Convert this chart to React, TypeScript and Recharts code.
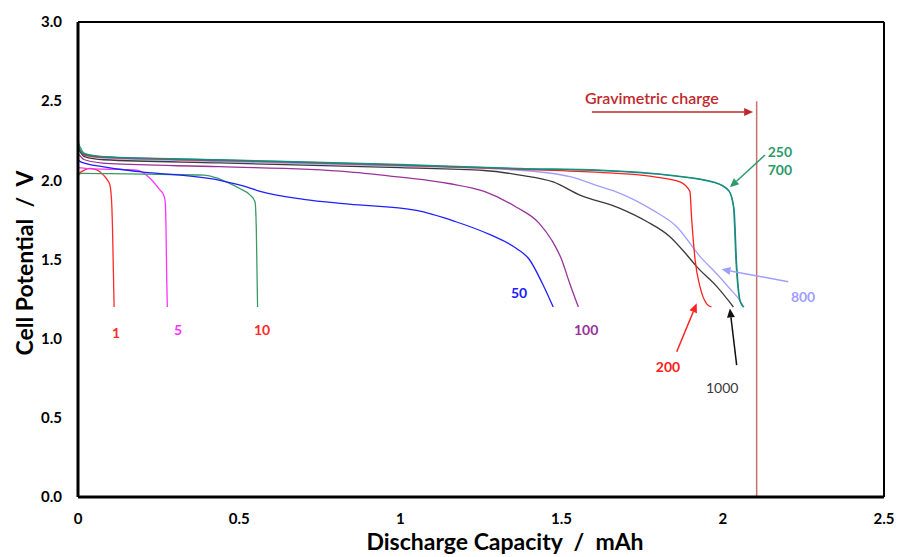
import React from 'react';
import { LineChart, Line, XAxis, YAxis, ReferenceLine, ReferenceDot } from 'recharts';

// discharge capacity (mAh) and cell potential (V) for each run
const cap1 = [0, 0.015, 0.037, 0.06, 0.079, 0.092, 0.099, 0.104, 0.107, 0.109, 0.111, 0.112];
const v1 = [2.04, 2.06, 2.076, 2.065, 2.033, 2.0, 1.97, 1.875, 1.7, 1.5, 1.3, 1.2];

const cap5 = [0, 0.03, 0.1, 0.182, 0.22, 0.254, 0.265, 0.27, 0.273, 0.275, 0.277];
const v5 = [2.08, 2.074, 2.07, 2.065, 2.02, 1.94, 1.91, 1.875, 1.7, 1.4, 1.2];

const cap10 = [0, 0.01, 0.1, 0.25, 0.39, 0.43, 0.46, 0.5, 0.534, 0.549, 0.553, 0.555, 0.557];
const v10 = [2.03, 2.044, 2.042, 2.038, 2.033, 2.015, 1.99, 1.95, 1.907, 1.865, 1.7, 1.45, 1.2];

const cap50 = [0, 0.01, 0.08, 0.19, 0.44, 0.52, 0.565, 0.7, 0.84, 1.05, 1.17, 1.28, 1.36, 1.4, 1.44, 1.474];
const v50 = [2.13, 2.115, 2.085, 2.055, 2.0, 1.96, 1.93, 1.88, 1.85, 1.81, 1.74, 1.655, 1.57, 1.5, 1.35, 1.2];

const cap100 = [0, 0.02, 0.1, 0.44, 0.84, 1.0, 1.15, 1.26, 1.36, 1.43, 1.47, 1.5, 1.525, 1.552];
const v100 = [2.17, 2.13, 2.105, 2.086, 2.054, 2.02, 1.98, 1.93, 1.83, 1.73, 1.62, 1.5, 1.35, 1.2];

const cap200 = [0, 0.02, 0.08, 0.44, 1.0, 1.37, 1.62, 1.784, 1.867, 1.898, 1.903, 1.914, 1.929, 1.95, 1.965];
const v200 = [2.21, 2.16, 2.145, 2.125, 2.095, 2.07, 2.05, 2.023, 1.99, 1.93, 1.77, 1.5, 1.33, 1.22, 1.2];

const cap250 = [0, 0.02, 0.08, 0.44, 1.0, 1.37, 1.62, 1.836, 1.97, 2.017, 2.033, 2.041, 2.053, 2.064];
const v250 = [2.24, 2.17, 2.15, 2.13, 2.1, 2.075, 2.065, 2.033, 1.99, 1.94, 1.83, 1.48, 1.24, 1.2];

const cap700 = [0, 0.004, 0.02, 0.08, 0.44, 1.0, 1.37, 1.62, 1.84, 1.975, 2.02, 2.035, 2.043, 2.055, 2.066];
const v700 = [2.3, 2.2, 2.165, 2.148, 2.128, 2.098, 2.073, 2.062, 2.03, 1.985, 1.93, 1.82, 1.47, 1.23, 1.2];

const cap800 = [0, 0.02, 0.08, 0.44, 1.0, 1.36, 1.526, 1.62, 1.681, 1.784, 1.857, 1.929, 1.981, 2.02, 2.053, 2.064];
const v800 = [2.22, 2.16, 2.14, 2.12, 2.09, 2.065, 2.023, 1.96, 1.918, 1.81, 1.707, 1.52, 1.41, 1.32, 1.24, 1.2];

const cap1000 = [0, 0.02, 0.08, 0.44, 1.0, 1.26, 1.371, 1.474, 1.557, 1.681, 1.764, 1.836, 1.888, 1.919, 1.981, 2.033];
const v1000 = [2.2, 2.15, 2.13, 2.11, 2.08, 2.062, 2.033, 1.99, 1.907, 1.823, 1.74, 1.644, 1.53, 1.455, 1.33, 1.2];

const xTicks = [0, 0.5, 1, 1.5, 2, 2.5];
const yTicks = [0, 0.5, 1, 1.5, 2, 2.5, 3];

const gravimetricCap = 2.105;

const toPts = (xs: number[], ys: number[]) => xs.map((x, i) => ({ x, y: ys[i] }));

const series = [
  { name: '1', pts: toPts(cap1, v1), color: '#ff2a2a' },
  { name: '5', pts: toPts(cap5, v5), color: '#ff33ff' },
  { name: '10', pts: toPts(cap10, v10), color: '#3a9a64' },
  { name: '50', pts: toPts(cap50, v50), color: '#2020ff' },
  { name: '100', pts: toPts(cap100, v100), color: '#993399' },
  { name: '800', pts: toPts(cap800, v800), color: '#9f9fff' },
  { name: '1000', pts: toPts(cap1000, v1000), color: '#3a3a3a' },
  { name: '200', pts: toPts(cap200, v200), color: '#ff2020' },
  { name: '250', pts: toPts(cap250, v250), color: '#2e9a6a' },
  { name: '700', pts: toPts(cap700, v700), color: '#15898a' },
];

// text labels: [text, x, y, colour, weight]
const labels: [string, number, number, string, number][] = [
  ['1', 0.118, 1.035, '#ff2a2a', 700],
  ['5', 0.31, 1.054, '#ff33ff', 700],
  ['10', 0.571, 1.054, '#ff2a2a', 700],
  ['50', 1.368, 1.288, '#2020ff', 700],
  ['100', 1.576, 1.054, '#993399', 700],
  ['200', 1.83, 0.82, '#ff2020', 700],
  ['1000', 1.998, 0.688, '#3a3a3a', 400],
  ['800', 2.249, 1.263, '#9f9fff', 700],
  ['250', 2.177, 2.179, '#2e9a6a', 700],
  ['700', 2.177, 2.065, '#2e9a6a', 700],
];

// arrows: tail x, tail y, head x, head y, colour
const arrows: [number, number, number, number, string][] = [
  [1.857, 0.917, 1.919, 1.223, '#ff2020'],
  [2.043, 0.833, 2.022, 1.191, '#111111'],
  [2.203, 1.36, 1.996, 1.438, '#9f9fff'],
  [2.131, 2.16, 2.022, 1.956, '#2e9a6a'],
  [1.594, 2.431, 2.094, 2.431, '#c0282d'],
];

const Arrow = (props: any) => {
  const { x1, y1, x2, y2, stroke } = props;
  const ang = Math.atan2(y2 - y1, x2 - x1);
  const len = 9;
  const w = 4;
  const bx = x2 - len * Math.cos(ang);
  const by = y2 - len * Math.sin(ang);
  const px = -Math.sin(ang) * w;
  const py = Math.cos(ang) * w;
  return (
    <g>
      <line x1={x1} y1={y1} x2={bx} y2={by} stroke={stroke} strokeWidth={1.5} />
      <polygon points={`${x2},${y2} ${bx + px},${by + py} ${bx - px},${by - py}`} fill={stroke} />
    </g>
  );
};

const font = 'Lato, "Open Sans", sans-serif';

export default function App() {
  return (
    <div style={{ position: 'absolute', left: 0, top: 0, width: 898, height: 557, background: '#fff', fontFamily: font }}>
      <LineChart width={898} height={557} margin={{ top: 22, right: 14, bottom: 20, left: 18 }}>
        <XAxis
          type="number"
          dataKey="x"
          domain={[0, 2.5]}
          ticks={xTicks}
          tickFormatter={(v: number) => String(v)}
          axisLine={{ stroke: '#000', strokeWidth: 3 }}
          tickLine={false}
          tickMargin={10}
          height={40}
          tick={{ fill: '#000', fontSize: 15, fontWeight: 700, fontFamily: font }}
        />
        <YAxis
          type="number"
          dataKey="y"
          domain={[0, 3]}
          ticks={yTicks}
          tickFormatter={(v: number) => v.toFixed(1)}
          axisLine={{ stroke: '#000', strokeWidth: 3 }}
          tickLine={false}
          tickMargin={10}
          width={60}
          tick={{ fill: '#000', fontSize: 15, fontWeight: 700, fontFamily: font }}
        />
        <ReferenceLine y={3} stroke="#000" strokeWidth={2} />
        <ReferenceLine x={2.5} stroke="#000" strokeWidth={2} />
        <ReferenceLine
          segment={[{ x: gravimetricCap, y: 0 }, { x: gravimetricCap, y: 2.5 }]}
          stroke="#c87070"
          strokeWidth={1.5}
        />
        {series.map((s) => (
          <Line
            key={s.name}
            data={s.pts}
            dataKey="y"
            type="monotone"
            stroke={s.color}
            strokeWidth={1.3}
            dot={false}
            isAnimationActive={false}
          />
        ))}
        {arrows.map((a, i) => (
          <ReferenceLine
            key={'a' + i}
            segment={[{ x: a[0], y: a[1] }, { x: a[2], y: a[3] }]}
            stroke={a[4]}
            shape={(p: any) => <Arrow {...p} stroke={a[4]} />}
          />
        ))}
        {labels.map((l) => (
          <ReferenceDot
            key={'l' + l[0]}
            x={l[1]}
            y={l[2]}
            r={0}
            shape={(p: any) => (
              <text x={p.cx} y={p.cy} dy="0.35em" textAnchor="middle" fill={l[3]} fontSize={14} fontWeight={l[4]} fontFamily={font}>
                {l[0]}
              </text>
            )}
          />
        ))}
        <ReferenceDot
          x={1.78}
          y={2.52}
          r={0}
          shape={(p: any) => (
            <text x={p.cx} y={p.cy} dy="0.35em" textAnchor="middle" fill="#c0282d" fontSize={16} fontWeight={600} fontFamily={font}>
              Gravimetric charge
            </text>
          )}
        />
      </LineChart>
      <div style={{ position: 'absolute', left: 24, top: 263, transform: 'translate(-50%, -50%) rotate(-90deg)', transformOrigin: 'center', whiteSpace: 'pre', fontWeight: 700, fontSize: 23 }}>
        {'Cell Potential  /  V'}
      </div>
      <div style={{ position: 'absolute', left: 505, top: 541, transform: 'translate(-50%, -50%)', whiteSpace: 'pre', fontWeight: 700, fontSize: 23, lineHeight: '26px' }}>
        {'Discharge Capacity  /  mAh'}
      </div>
    </div>
  );
}
